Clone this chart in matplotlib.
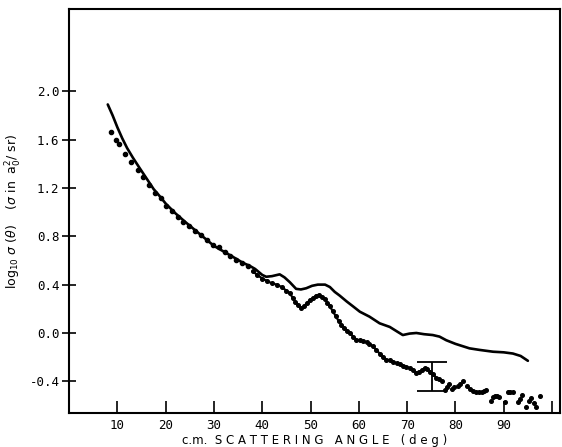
import matplotlib
matplotlib.use("Agg")
import matplotlib.pyplot as plt

# theory curve (log10 sigma vs c.m. angle)
theory_angle = [8.0, 9.0, 10.0, 11.0, 12.0, 13.2, 14.5, 16.0, 17.5, 19.0, 20.0, 22.0, 24.0,
                27.0, 30.0, 33.9, 36.0, 37.4, 38.5, 40.0, 40.8, 42.0, 43.6, 44.6, 45.7,
                47.0, 48.0, 49.1, 50.3, 51.5, 53.0, 54.0, 55.0, 56.0, 57.5, 58.8, 60.2,
                62.2, 64.3, 66.4, 68.0, 69.1, 70.5, 71.9, 73.5, 75.3, 76.7, 78.1, 80.0,
                82.9, 85.0, 87.8, 90.0, 91.9, 93.5, 95.0]
theory_val = [1.89, 1.80, 1.70, 1.61, 1.53, 1.45, 1.37, 1.28, 1.19, 1.12, 1.07, 0.99, 0.92,
              0.82, 0.72, 0.63, 0.58, 0.555, 0.53, 0.48, 0.465, 0.47, 0.485, 0.46, 0.42,
              0.365, 0.36, 0.37, 0.39, 0.40, 0.40, 0.38, 0.34, 0.31, 0.26, 0.22, 0.176,
              0.135, 0.08, 0.05, 0.01, -0.017, -0.005, 0.0, -0.01, -0.017, -0.03, -0.06, -0.09,
              -0.127, -0.14, -0.155, -0.16, -0.17, -0.19, -0.23]

# measured points, small angles (separate dots)
early_angle = [8.75, 9.8, 10.3, 11.5, 12.9, 14.3, 15.3, 16.5, 17.7, 19.0, 20.1, 21.4, 22.5,
               23.6, 24.8, 26.1, 27.4, 28.6, 29.8, 31.0, 32.2, 33.4, 34.6, 35.9, 37.0]
early_val = [1.66, 1.60, 1.56, 1.48, 1.41, 1.35, 1.29, 1.22, 1.16, 1.115, 1.05, 1.01, 0.963,
             0.92, 0.886, 0.847, 0.81, 0.77, 0.73, 0.71, 0.67, 0.64, 0.60, 0.58, 0.55]

# measured points, dense middle section
dense_angle = [38.0, 39.0, 40.0, 41.0, 42.0, 43.0, 44.0, 45.0, 45.7, 46.3, 46.8, 47.4, 48.0,
               48.6, 49.2, 49.8, 50.5, 51.2, 51.7, 52.3, 52.9, 53.5, 54.0, 54.6, 55.2, 55.8,
               56.4, 57.0, 57.6, 58.2, 58.8, 59.5, 60.2, 60.9, 61.6, 62.2, 62.9, 63.6, 64.3,
               65.0, 65.7, 66.4, 67.1, 67.8, 68.5, 69.1, 69.8, 70.5, 71.2, 71.8, 72.4, 73.0,
               73.6, 74.2, 74.8, 75.4, 76.0, 76.6]
dense_val = [0.51, 0.48, 0.45, 0.43, 0.41, 0.40, 0.38, 0.35, 0.33, 0.29, 0.26, 0.23, 0.205,
             0.22, 0.245, 0.27, 0.29, 0.31, 0.315, 0.30, 0.28, 0.25, 0.22, 0.18, 0.14, 0.10,
             0.07, 0.04, 0.02, 0.00, -0.03, -0.055, -0.06, -0.07, -0.075, -0.09, -0.11, -0.14,
             -0.17, -0.20, -0.22, -0.225, -0.24, -0.25, -0.26, -0.27, -0.28, -0.29, -0.31,
             -0.33, -0.32, -0.31, -0.29, -0.30, -0.32, -0.34, -0.37, -0.38]

# measured points, large angles (separate dots)
late_angle = [77.3, 77.8, 78.3, 78.6, 79.2, 79.8, 80.5, 81.0, 81.6, 82.4, 83.0, 83.6, 84.3,
              84.9, 85.4, 86.0, 86.4, 87.3, 87.7, 88.1, 88.6, 89.1, 90.2, 90.9, 91.4, 91.9,
              92.9, 93.4, 93.8, 94.7, 95.2, 95.7, 96.2, 96.7, 97.6]
late_val = [-0.40, -0.47, -0.45, -0.42, -0.46, -0.45, -0.44, -0.42, -0.40, -0.44, -0.46,
            -0.48, -0.49, -0.49, -0.49, -0.48, -0.47, -0.56, -0.53, -0.52, -0.52, -0.53,
            -0.57, -0.49, -0.49, -0.49, -0.57, -0.55, -0.51, -0.61, -0.56, -0.54, -0.58,
            -0.61, -0.52]

# typical error bar
err_angle = 75.1
err_val = -0.36
err_size = 0.12

x_ticks = [10, 20, 30, 40, 50, 60, 70, 80, 90, 100]
x_labels = ["10", "20", "30", "40", "50", "60", "70", "80", "90", ""]
y_ticks = [-0.4, 0.0, 0.4, 0.8, 1.2, 1.6, 2.0]
y_labels = ["-0.4", "0.0", "0.4", "0.8", "1.2", "1.6", "2.0"]

fig = plt.figure(figsize=(5.62, 4.47), dpi=100)
ax = fig.add_axes([0.123, 0.076, 0.873, 0.904])

ax.plot(theory_angle, theory_val, color="black", lw=1.9, solid_capstyle="round")
ax.plot(early_angle, early_val, "o", color="black", ms=3.0)
ax.plot(dense_angle, dense_val, "-o", color="black", ms=2.6, lw=1.6)
ax.plot(late_angle, late_val, "o", color="black", ms=2.6)
ax.errorbar([err_angle], [err_val], yerr=[err_size], fmt="none", ecolor="black",
            elinewidth=1.3, capsize=11, capthick=1.3)

ax.set_xlim(0, 101.6)
ax.set_ylim(-0.662, 2.68)

ax.set_xticks(x_ticks)
ax.set_xticklabels(x_labels, family="DejaVu Sans Mono", fontsize=9)
ax.set_yticks(y_ticks)
ax.set_yticklabels(y_labels, family="DejaVu Sans Mono", fontsize=9)
ax.tick_params(axis="x", direction="in", length=9, width=1.2, pad=4)
ax.tick_params(axis="y", direction="inout", length=10, width=1.2, pad=2)

for s in ax.spines.values():
    s.set_linewidth(1.5)

ax.set_xlabel("c.m.  S C A T T E R I N G   A N G L E   ( d e g )", fontsize=8.5, labelpad=2)
ax.set_ylabel(r"log$_{10}$ $\sigma$ ($\theta$)    ($\sigma$ in  a$_0^2$/ sr)",
              fontsize=9, labelpad=4)

fig.savefig("out.png", dpi=100)
